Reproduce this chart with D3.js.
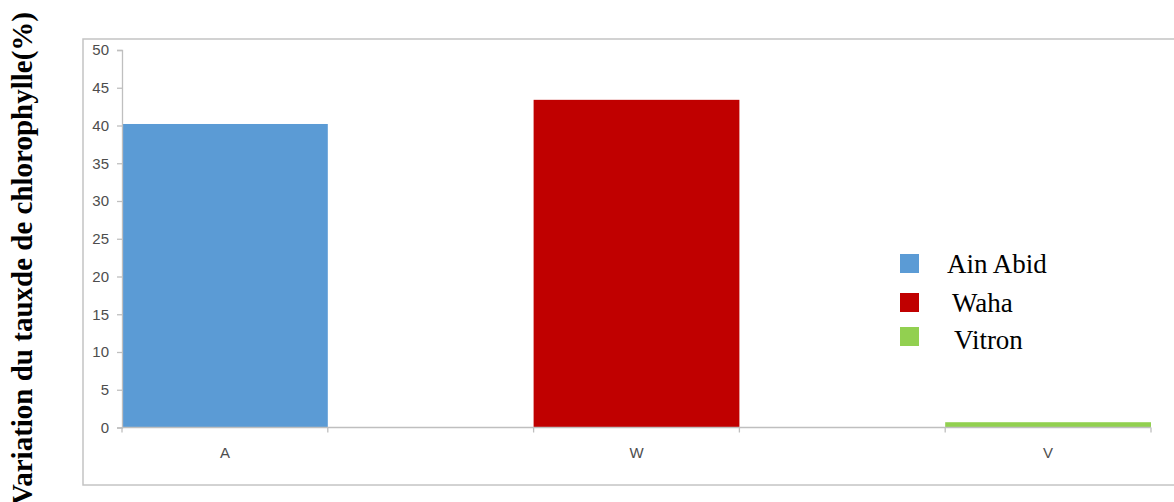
<!DOCTYPE html>
<html>
<head>
<meta charset="utf-8">
<script src="https://cdn.jsdelivr.net/npm/d3@7"></script>
<style>
  html, body { margin: 0; padding: 0; background: #fff; }
  svg { display: block; }
</style>
</head>
<body>
<svg id="chart" width="1174" height="502"></svg>
<script>
// Chlorophyll variation per variety
const categories = ["A", "W", "V"];
const seriesNames = ["Ain Abid", "Waha", "Vitron"];
const values = [40.2, 43.4, 0.7];
const colors = ["#5b9bd5", "#c00000", "#92d050"];
const yTicks = [0, 5, 10, 15, 20, 25, 30, 35, 40, 45, 50];
const yTitle = "Variation du tauxde de chlorophylle(%)";

const svg = d3.select("#chart");

// plot area
const plot = { left: 122, right: 1151, top: 50, bottom: 427.5 };

// outer chart frame
svg.append("rect")
  .attr("x", 83).attr("y", 39)
  .attr("width", 1120).attr("height", 446)
  .attr("fill", "none")
  .attr("stroke", "#c4c4c4")
  .attr("stroke-width", 1.5);

const x = d3.scaleBand()
  .domain(categories)
  .range([plot.left, plot.right])
  .paddingInner(0.5)
  .paddingOuter(0);

const y = d3.scaleLinear()
  .domain([0, 50])
  .range([plot.bottom, plot.top]);

// bars
svg.append("g")
  .selectAll("rect")
  .data(categories)
  .join("rect")
  .attr("x", (d) => x(d))
  .attr("y", (d, i) => y(values[i]))
  .attr("width", x.bandwidth())
  .attr("height", (d, i) => y(0) - y(values[i]))
  .attr("fill", (d, i) => colors[i]);

// y axis
const yAxis = svg.append("g")
  .attr("transform", `translate(${plot.left},0)`)
  .call(d3.axisLeft(y).tickValues(yTicks).tickSize(5).tickPadding(8));
yAxis.select(".domain").attr("stroke", "#bfbfbf").attr("stroke-width", 1.3);
yAxis.selectAll(".tick line").attr("stroke", "#bfbfbf").attr("stroke-width", 1.3);
yAxis.selectAll(".tick text")
  .attr("fill", "#4d4d4d")
  .style("font-family", "'Liberation Sans', Arial, sans-serif")
  .style("font-size", "15px");

// x axis line with ticks at each bar edge
const xAxis = svg.append("g");
xAxis.append("line")
  .attr("x1", plot.left).attr("x2", plot.right)
  .attr("y1", y(0)).attr("y2", y(0))
  .attr("stroke", "#bfbfbf").attr("stroke-width", 1.3);
const edges = [];
categories.forEach((c) => { edges.push(x(c)); edges.push(x(c) + x.bandwidth()); });
xAxis.selectAll("line.edge")
  .data(edges)
  .join("line")
  .attr("class", "edge")
  .attr("x1", (d) => d).attr("x2", (d) => d)
  .attr("y1", y(0)).attr("y2", y(0) + 5)
  .attr("stroke", "#bfbfbf").attr("stroke-width", 1.3);
xAxis.selectAll("text")
  .data(categories)
  .join("text")
  .attr("x", (d) => x(d) + x.bandwidth() / 2)
  .attr("y", y(0) + 30)
  .attr("text-anchor", "middle")
  .attr("fill", "#4d4d4d")
  .style("font-family", "'Liberation Sans', Arial, sans-serif")
  .style("font-size", "15px")
  .text((d) => d);

// y axis title
svg.append("text")
  .attr("transform", "translate(32,12) rotate(-90)")
  .attr("text-anchor", "end")
  .attr("fill", "#000")
  .style("font-family", "'Liberation Serif', 'Times New Roman', serif")
  .style("font-weight", "bold")
  .style("font-size", "29px")
  .text(yTitle);

// legend
const legendRows = [
  { sq: 254, tx: 947, base: 273 },
  { sq: 293, tx: 952, base: 312 },
  { sq: 327, tx: 954, base: 349 }
];
const legend = svg.append("g");
legend.selectAll("rect")
  .data(seriesNames)
  .join("rect")
  .attr("x", 900)
  .attr("y", (d, i) => legendRows[i].sq)
  .attr("width", 19).attr("height", 19)
  .attr("fill", (d, i) => colors[i]);
legend.selectAll("text")
  .data(seriesNames)
  .join("text")
  .attr("x", (d, i) => legendRows[i].tx)
  .attr("y", (d, i) => legendRows[i].base)
  .attr("fill", "#000")
  .style("font-family", "'Liberation Serif', 'Times New Roman', serif")
  .style("font-size", "27px")
  .text((d) => d);
</script>
</body>
</html>
